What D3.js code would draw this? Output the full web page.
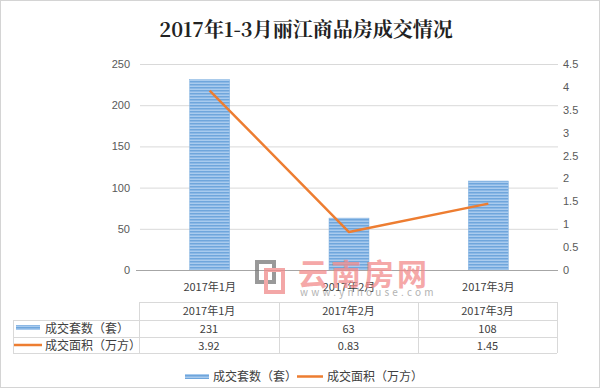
<!DOCTYPE html>
<html>
<head>
<meta charset="utf-8">
<script src="https://cdn.jsdelivr.net/npm/d3@7/dist/d3.min.js"></script>
<style>
  body { margin: 0; background: #fff; }
  svg { display: block; font-family: "Noto Sans CJK SC", "Noto Sans", sans-serif; }
</style>
</head>
<body>
<svg id="chart" width="600" height="391"></svg>
<script>
const title = '2017年1-3月丽江商品房成交情况';
const months = ['2017年1月', '2017年2月', '2017年3月'];
const units = [231, 63, 108];          // 成交套数(套)
const area = [3.92, 0.83, 1.45];       // 成交面积(万方)
const unitTicks = [0, 50, 100, 150, 200, 250];
const areaTicks = [0, 0.5, 1, 1.5, 2, 2.5, 3, 3.5, 4, 4.5];
const seriesNames = ['成交套数（套）', '成交面积（万方）'];

const svg = d3.select('#chart');
const W = 600, H = 391;
const plot = { left: 140, right: 558, top: 64, bottom: 270 };
const orange = '#ed7d31';

// frame
svg.append('rect').attr('x', 0.5).attr('y', 0.5).attr('width', W - 1).attr('height', H - 4)
    .attr('fill', '#fff').attr('stroke', '#d4d4d4');

// striped bar fill
const defs = svg.append('defs');
const pat = defs.append('pattern').attr('id', 'stripe').attr('patternUnits', 'userSpaceOnUse')
    .attr('width', 4).attr('height', 3);
pat.append('rect').attr('width', 4).attr('height', 3).attr('fill', '#a9cbee');
pat.append('rect').attr('width', 4).attr('height', 1.5).attr('fill', '#6fa6dc');

svg.append('text').attr('x', W / 2 + 6).attr('y', 37).attr('text-anchor', 'middle')
    .attr('font-size', 20).attr('font-weight', 'bold').attr('fill', '#222')
    .attr('font-family', '"Noto Serif CJK SC", "Noto Sans CJK SC", serif')
    .text(title);

const x = d3.scaleBand().domain(months).range([plot.left, plot.right]).paddingInner(0).paddingOuter(0);
const yL = d3.scaleLinear().domain([0, 250]).range([plot.bottom, plot.top]);
const yR = d3.scaleLinear().domain([0, 4.5]).range([plot.bottom, plot.top]);

// gridlines
svg.append('g').selectAll('line').data(unitTicks.filter(d => d > 0)).join('line')
    .attr('x1', plot.left).attr('x2', plot.right)
    .attr('y1', d => yL(d) + 0.5).attr('y2', d => yL(d) + 0.5)
    .attr('stroke', '#d9d9d9');

const axisL = svg.append('g').attr('transform', `translate(${plot.left},0)`)
    .call(d3.axisLeft(yL).tickValues(unitTicks).tickSize(0).tickPadding(10));
axisL.select('.domain').remove();
axisL.selectAll('text').attr('font-size', 11).attr('fill', '#595959');

const axisR = svg.append('g').attr('transform', `translate(${plot.right},0)`)
    .call(d3.axisRight(yR).tickValues(areaTicks).tickSize(0).tickPadding(5).tickFormat(d3.format('~g')));
axisR.select('.domain').remove();
axisR.selectAll('text').attr('font-size', 11).attr('fill', '#595959');

// bars
const bw = 40;
svg.append('g').selectAll('rect').data(units).join('rect')
    .attr('x', (d, i) => x(months[i]) + x.bandwidth() / 2 - bw / 2)
    .attr('y', d => yL(d)).attr('width', bw).attr('height', d => yL(0) - yL(d))
    .attr('fill', 'url(#stripe)').attr('stroke', '#7fb0e0').attr('stroke-width', 0.5);

// x axis
svg.append('line').attr('x1', plot.left - 4).attr('x2', plot.right)
    .attr('y1', plot.bottom + 0.5).attr('y2', plot.bottom + 0.5).attr('stroke', '#a6a6a6');
svg.append('g').selectAll('text').data(months).join('text')
    .attr('x', d => x(d) + x.bandwidth() / 2).attr('y', 291)
    .attr('text-anchor', 'middle').attr('font-size', 11).attr('fill', '#404040').text(d => d);

// line
const line = d3.line().x((d, i) => x(months[i]) + x.bandwidth() / 2).y(d => yR(d));
svg.append('path').datum(area).attr('d', line).attr('fill', 'none')
    .attr('stroke', orange).attr('stroke-width', 2.5).attr('stroke-linejoin', 'round');

// watermark
const wm = svg.append('g').attr('opacity', 0.75);
wm.append('rect').attr('x', 257).attr('y', 262).attr('width', 17).attr('height', 20)
    .attr('fill', 'none').attr('stroke', '#777').attr('stroke-width', 4);
wm.append('rect').attr('x', 266).attr('y', 270).attr('width', 17).attr('height', 22)
    .attr('fill', 'none').attr('stroke', '#f08a8a').attr('stroke-width', 4);
wm.append('text').attr('x', 298).attr('y', 285).attr('font-size', 30).attr('font-weight', 'bold')
    .attr('fill', '#f28b8b').attr('letter-spacing', 3).text('云南房网');
wm.append('text').attr('x', 300).attr('y', 296).attr('font-size', 10).attr('fill', '#999')
    .attr('letter-spacing', 3.2).text('www.ynhouse.com');

// data table
const cols = [139, 279, 418, 557];
const rows = [302, 320, 337, 353];
const tg = svg.append('g').attr('stroke', '#d9d9d9').attr('stroke-width', 1);
tg.append('line').attr('x1', cols[0]).attr('x2', cols[3]).attr('y1', rows[0] + 0.5).attr('y2', rows[0] + 0.5);
rows.slice(1).forEach(r => tg.append('line').attr('x1', 13).attr('x2', cols[3]).attr('y1', r + 0.5).attr('y2', r + 0.5));
cols.forEach(c => tg.append('line').attr('x1', c + 0.5).attr('x2', c + 0.5).attr('y1', rows[0]).attr('y2', rows[3]));
tg.append('line').attr('x1', 13.5).attr('x2', 13.5).attr('y1', rows[1]).attr('y2', rows[3]);

const cellX = i => (cols[i] + cols[i + 1]) / 2;
const tt = svg.append('g').attr('font-size', 11).attr('fill', '#404040').attr('text-anchor', 'middle');
months.forEach((m, i) => tt.append('text').attr('x', cellX(i)).attr('y', 315).text(m));
units.forEach((v, i) => tt.append('text').attr('x', cellX(i)).attr('y', 333).text(v));
area.forEach((v, i) => tt.append('text').attr('x', cellX(i)).attr('y', 349.5).text(v.toFixed(2)));

svg.append('rect').attr('x', 16).attr('y', 325).attr('width', 24).attr('height', 5).attr('fill', 'url(#stripe)');
svg.append('line').attr('x1', 14).attr('x2', 42).attr('y1', 345).attr('y2', 345).attr('stroke', orange).attr('stroke-width', 2.5);
svg.append('text').attr('x', 45).attr('y', 333).attr('font-size', 12).attr('fill', '#404040').text(seriesNames[0]);
svg.append('text').attr('x', 45).attr('y', 349.5).attr('font-size', 12).attr('fill', '#404040').text(seriesNames[1]);

// legend
svg.append('rect').attr('x', 185).attr('y', 374).attr('width', 24).attr('height', 5).attr('fill', 'url(#stripe)');
svg.append('text').attr('x', 213).attr('y', 381).attr('font-size', 12).attr('fill', '#404040').text(seriesNames[0]);
svg.append('line').attr('x1', 297).attr('x2', 323).attr('y1', 376.5).attr('y2', 376.5).attr('stroke', orange).attr('stroke-width', 2.5);
svg.append('text').attr('x', 327).attr('y', 381).attr('font-size', 12).attr('fill', '#404040').text(seriesNames[1]);
</script>
</body>
</html>
